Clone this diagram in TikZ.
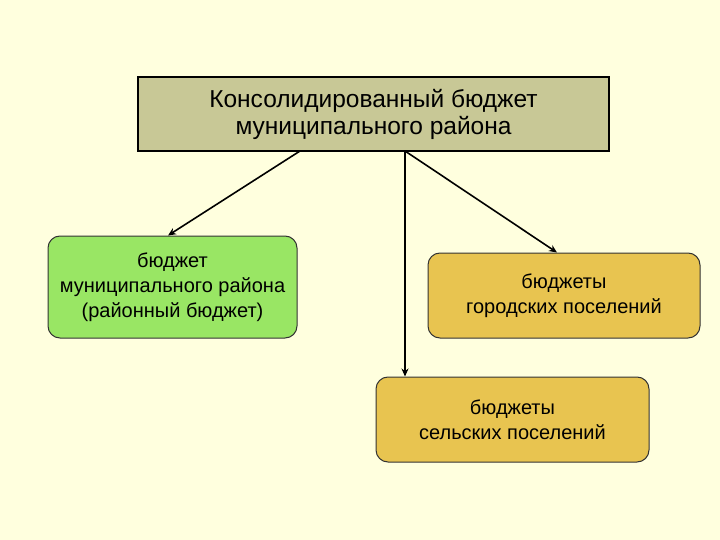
\documentclass[tikz,border=0pt]{standalone}
\usepackage{fontspec}
\setmainfont{Liberation Sans}
\usetikzlibrary{arrows.meta}
\definecolor{bg}{RGB}{255,255,222}
\definecolor{topfill}{RGB}{200,200,150}
\definecolor{greenfill}{RGB}{153,230,100}
\definecolor{goldfill}{RGB}{232,196,80}
\begin{document}
\begin{tikzpicture}[x=1pt,y=-1pt,
  topbox/.style={draw=black,line width=2pt,fill=topfill,align=center,font=\fontsize{24.5}{27}\selectfont},
  subbox/.style={draw=black!80,line width=1pt,rounded corners=12pt,align=center,font=\fontsize{20}{25}\selectfont},
  conn/.style={line width=1.6pt,-{Stealth[length=8pt,width=7pt]}}]
\fill[bg] (0,0) rectangle (720,540);
\useasboundingbox (0,0) rectangle (720,540);
\node[topbox,minimum width=471pt,minimum height=74pt,inner sep=0pt] (top) at (373.5,114) {Консолидированный бюджет\\муниципального района};
\node[subbox,fill=greenfill,minimum width=249pt,minimum height=102pt,inner sep=0pt] (rb) at (172.5,287) {бюджет\\муниципального района\\(районный бюджет)};
\node[subbox,fill=goldfill,minimum width=272pt,minimum height=85pt,inner sep=0pt] (gp) at (564,295.5) {бюджеты\\городских поселений};
\node[subbox,fill=goldfill,minimum width=273pt,minimum height=85pt,inner sep=0pt] (sp) at (512.5,419.5) {бюджеты\\сельских поселений};
\coordinate (s1) at (300,151);
\coordinate (s2) at (405,151);
\draw[conn] (s1) -- (rb.north west -| 168,0);
\draw[conn] (s2) -- (s2 |- sp.north);
\draw[conn] (s2) -- (gp.north -| 557,0);
\end{tikzpicture}
\end{document}
